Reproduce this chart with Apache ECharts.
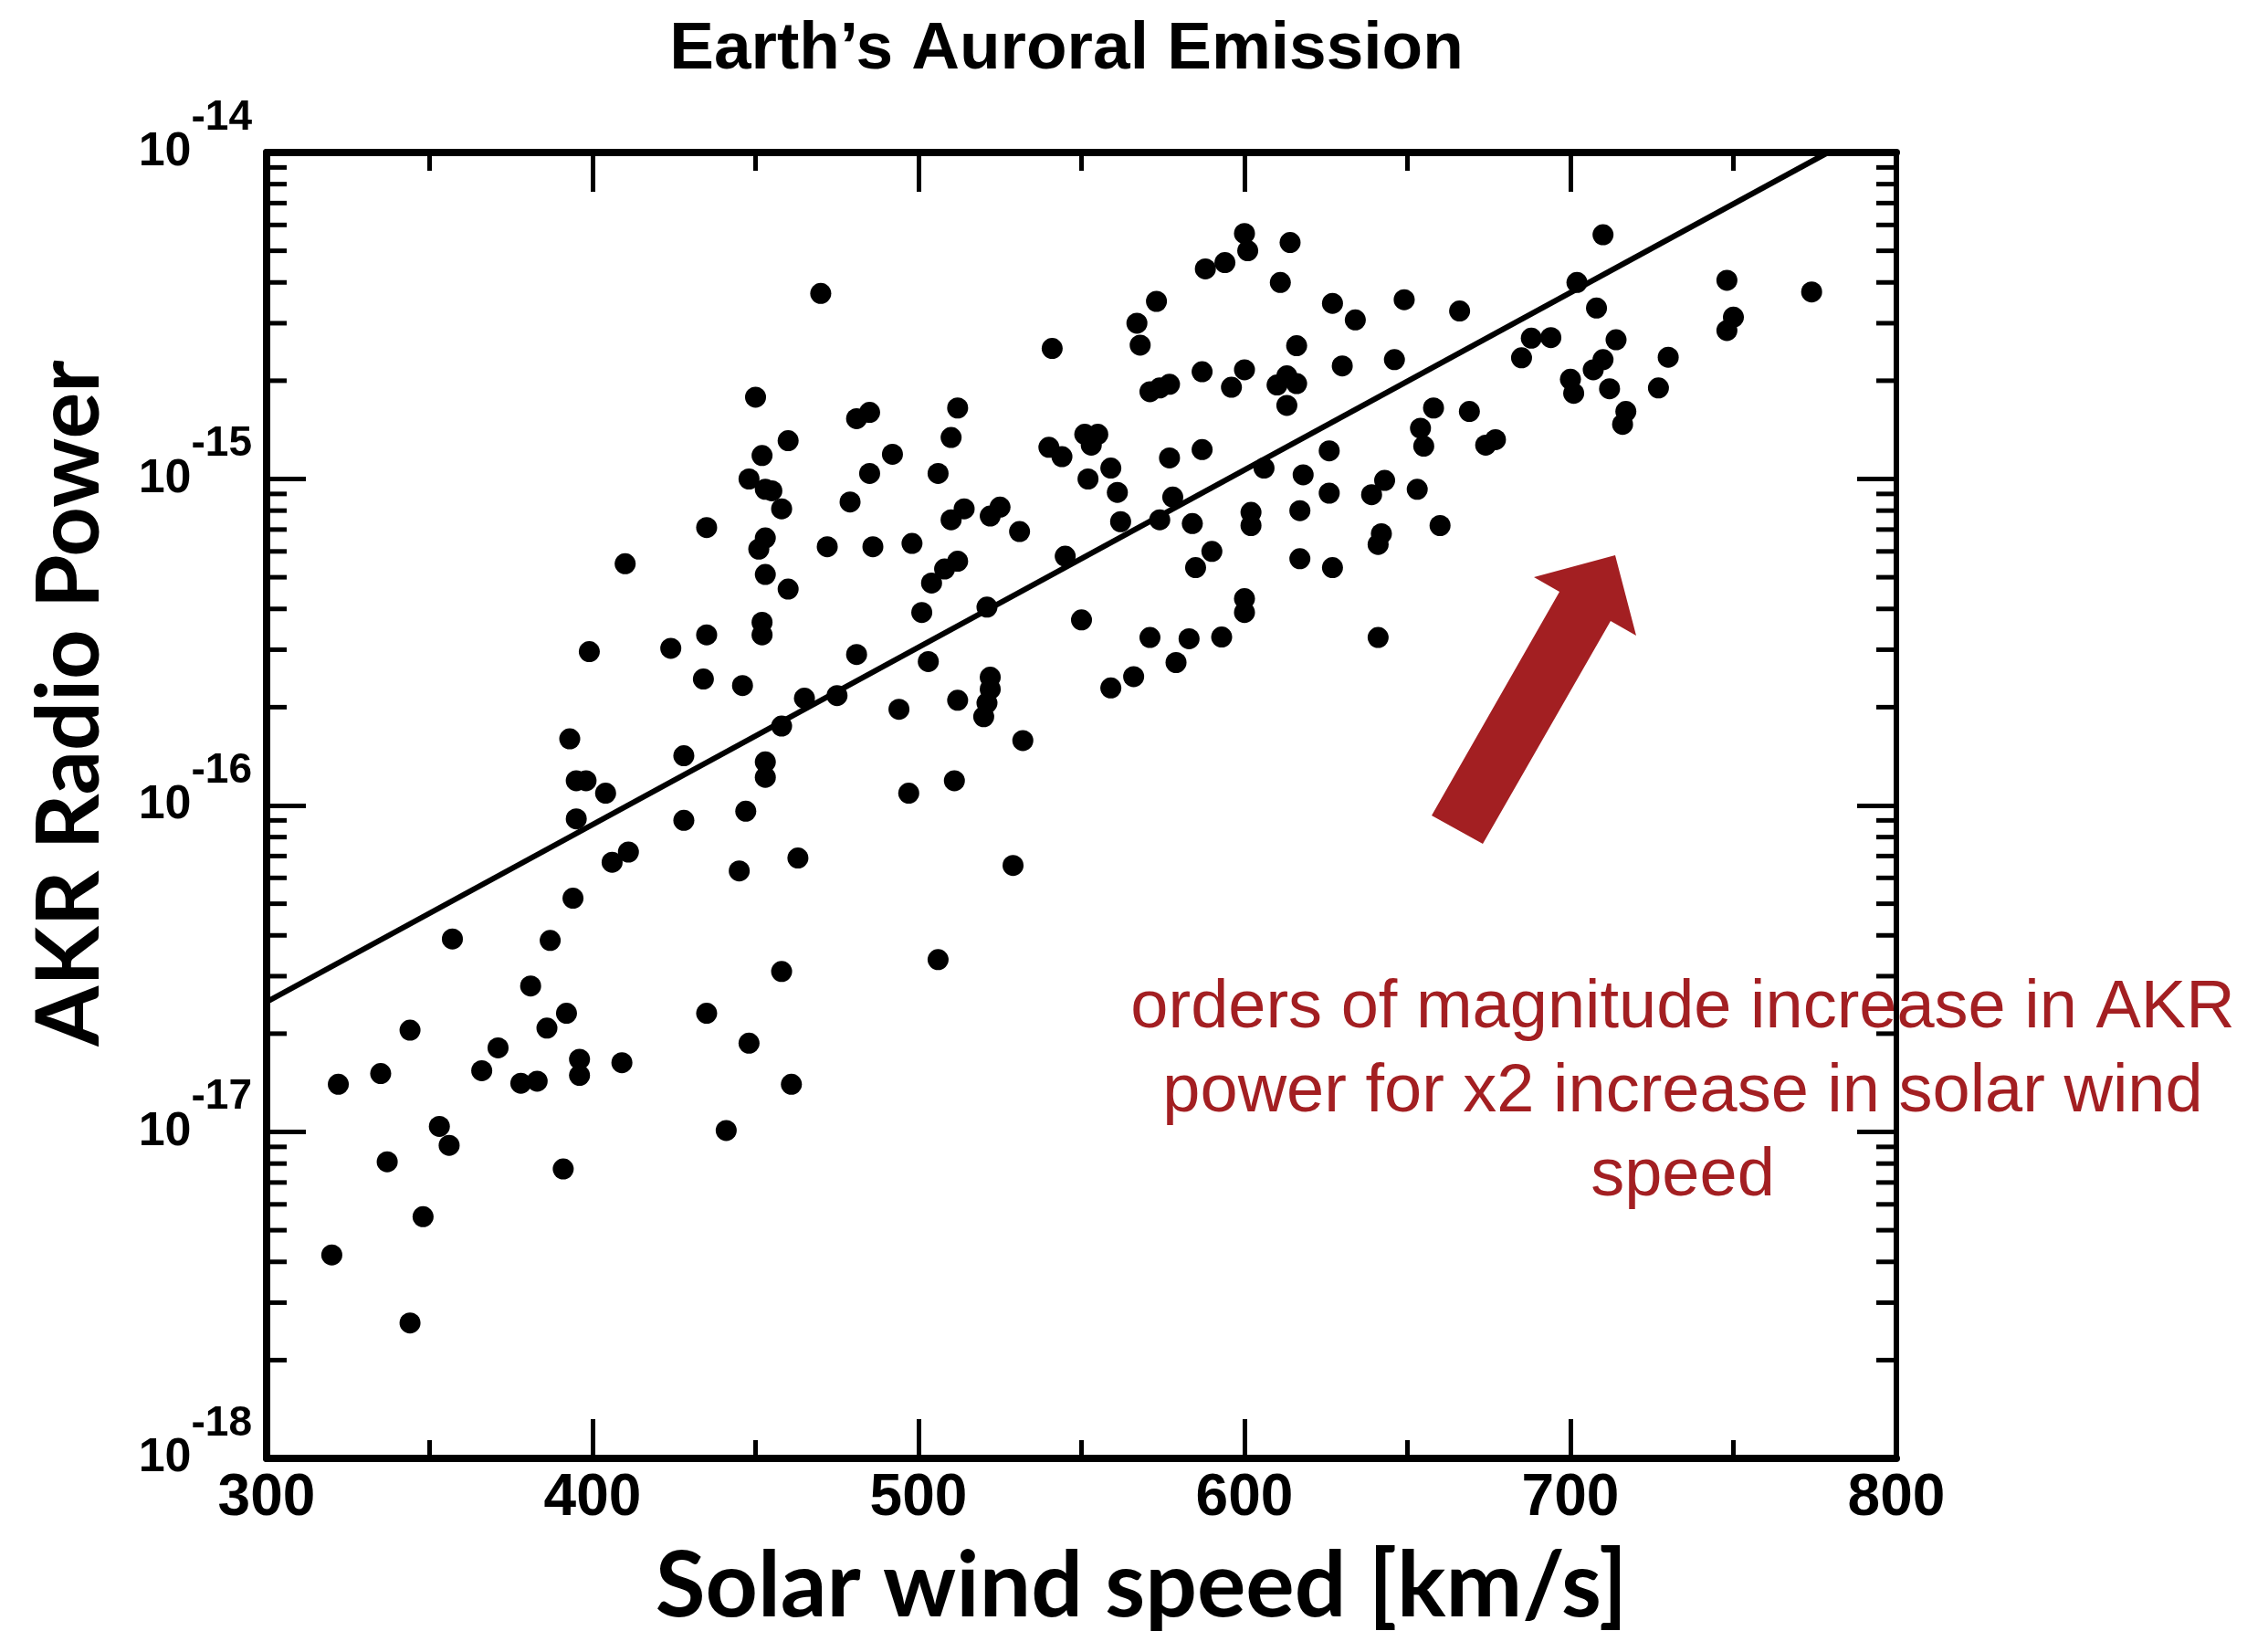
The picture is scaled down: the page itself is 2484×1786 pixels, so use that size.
<!DOCTYPE html>
<html><head><meta charset="utf-8">
<script src="https://cdn.jsdelivr.net/npm/echarts@6/dist/echarts.min.js"></script>
<style>html,body{margin:0;padding:0;background:#fff}#c{width:2484px;height:1786px}</style>
</head><body><div id="c"></div>
<script>
// Solar wind speed [km/s]
const speeds = [
 470,450,460,452,448,453,455,458,435,453,451,410,453,472,460,399,424,435,452,452,
 434,446,465,475,458,393,428,453,453,395,398,404,395,428,447,411,406,463,445,394,
 357,387,458,381,392,435,344,386,371,448,322,335,366,378,383,396,396,409,461,441,
 353,356,337,391,348,320,344,
 600,601,614,588,594,611,573,627,634,567,568,541,616,587,600,630,571,574,577,596,
 610,613,616,613,481,485,512,510,492,485,479,506,540,544,551,555,553,559,552,561,
 577,587,606,626,618,626,578,602,602,617,510,514,522,525,531,562,574,584,486,498,
 512,508,504,545,590,585,617,627,
 501,521,550,481,503,571,583,593,600,600,579,566,559,641,494,512,522,522,521,520,
 532,497,511,529,506,
 710,702,748,774,708,750,748,649,666,646,685,688,694,714,730,710,707,700,701,712,
 727,717,716,658,669,654,655,674,677,643,639,653,642,641,660
];
// AKR radio power
const powers = [
 3.7e-15,1.78e-15,1.31e-15,1.18e-15,1.0e-15,9.3e-16,9.2e-16,8.1e-16,7.1e-16,6.6e-16,6.1e-16,5.5e-16,5.1e-16,6.2e-16,4.6e-16,2.96e-16,3.03e-16,3.33e-16,3.64e-16,3.33e-16,
 2.44e-16,2.33e-16,2.13e-16,2.17e-16,1.75e-16,1.6e-16,1.42e-16,1.36e-16,1.22e-16,1.19e-16,1.19e-16,1.09e-16,9.1e-17,9.0e-17,9.6e-17,7.2e-17,6.7e-17,6.9e-17,6.3e-17,5.2e-17,
 3.9e-17,3.86e-17,3.1e-17,2.8e-17,2.31e-17,2.31e-17,2.05e-17,2.08e-17,1.81e-17,1.87e-17,1.4e-17,1.51e-17,1.54e-17,1.41e-17,1.43e-17,1.67e-17,1.49e-17,1.63e-17,1.4e-17,1.01e-17,
 1.04e-17,9.1e-18,8.1e-18,7.7e-18,5.5e-18,4.2e-18,2.6e-18,
 5.65e-15,5.0e-15,5.3e-15,4.4e-15,4.6e-15,4.0e-15,3.5e-15,3.45e-15,3.07e-15,3.0e-15,2.57e-15,2.51e-15,2.56e-15,2.13e-15,2.16e-15,2.22e-15,1.85e-15,1.9e-15,1.95e-15,1.91e-15,
 1.94e-15,2.07e-15,1.96e-15,1.68e-15,1.53e-15,1.6e-15,1.65e-15,1.34e-15,1.19e-15,1.04e-15,8.5e-16,1.04e-15,1.25e-15,1.17e-15,1.37e-15,1.37e-15,1.27e-15,1.08e-15,1.0e-15,9.1e-16,
 1.16e-15,1.23e-15,1.08e-15,1.22e-15,1.03e-15,9.05e-16,8.8e-16,7.9e-16,7.2e-16,8.0e-16,7.5e-16,8.1e-16,7.7e-16,8.2e-16,6.9e-16,7.4e-16,7.5e-16,7.3e-16,6.2e-16,6.35e-16,
 5.6e-16,5.3e-16,4.8e-16,5.8e-16,6.0e-16,5.35e-16,5.7e-16,5.35e-16,
 3.9e-16,4.05e-16,3.7e-16,2.9e-16,2.76e-16,3.27e-16,3.24e-16,3.28e-16,4.3e-16,3.9e-16,2.74e-16,2.48e-16,2.29e-16,3.27e-16,1.97e-16,2.1e-16,2.47e-16,2.27e-16,2.06e-16,1.87e-16,
 1.58e-16,1.09e-16,1.19e-16,6.55e-17,3.37e-17,
 5.6e-15,4.0e-15,4.06e-15,3.74e-15,3.34e-15,3.13e-15,2.85e-15,3.54e-15,3.27e-15,2.32e-15,2.35e-15,2.7e-15,2.71e-15,2.67e-15,2.36e-15,2.32e-15,2.16e-15,2.02e-15,1.83e-15,1.89e-15,
 1.9e-15,1.61e-15,1.47e-15,1.65e-15,1.61e-15,1.43e-15,1.26e-15,1.27e-15,1.32e-15,9.9e-16,8.95e-16,9.3e-16,6.8e-16,6.3e-16,7.2e-16
];
// fitted trend line end points
const fitSpeeds = [300, 779];
const fitPowers = [2.5e-17, 1e-14];
// axis ranges
const xMin = 300, xMax = 800, xStep = 100;
const yMin = 1e-18, yMax = 1e-14;
const decades = [-18, -17, -16, -15];
const minorMultipliers = [2, 3, 4, 5, 6, 7, 8, 9];

const RED = '#A31F22';
const minorTicks = [];
decades.forEach(e => minorMultipliers.forEach(m => minorTicks.push(m * Math.pow(10, e))));

const chart = echarts.init(document.getElementById('c'), null, {renderer: 'canvas'});
const axisBase = {
  type: 'value', min: xMin, max: xMax, interval: xStep,
  axisLine: {lineStyle: {color: '#000', width: 8}},
  axisTick: {inside: true, length: 43, lineStyle: {color: '#000', width: 5}},
  minorTick: {show: true, splitNumber: 2, length: 20, lineStyle: {color: '#000', width: 5}},
  splitLine: {show: false}
};
const yBase = {
  type: 'log', logBase: 10, min: yMin, max: yMax,
  axisLine: {lineStyle: {color: '#000', width: 8}},
  axisTick: {inside: true, length: 43, lineStyle: {color: '#000', width: 5}},
  splitLine: {show: false}
};
chart.setOption({
  animation: false,
  backgroundColor: '#fff',
  grid: {left: 292, top: 167, width: 1785, height: 1430},
  xAxis: [
    Object.assign({}, axisBase, {position: 'bottom',
      axisLabel: {color: '#000', fontSize: 64, fontWeight: 'bold', fontFamily: 'Liberation Sans', margin: 12}}),
    Object.assign({}, axisBase, {position: 'top', axisLabel: {show: false}})
  ],
  yAxis: [
    Object.assign({}, yBase, {position: 'left',
      axisLabel: {margin: 16,
        formatter: v => '{a|10}{b|' + Math.round(Math.log10(v)) + '}',
        rich: {
          a: {fontSize: 52, fontWeight: 'bold', fontFamily: 'Liberation Sans', color: '#000'},
          b: {fontSize: 46, fontWeight: 'bold', fontFamily: 'Liberation Sans', color: '#000', padding: [0, 0, 76, 0]}
        }}}),
    Object.assign({}, yBase, {position: 'right', axisLabel: {show: false}, axisLine: {lineStyle: {color: '#000', width: 6}}})
  ],
  series: [
    {
      type: 'scatter', xAxisIndex: 0, yAxisIndex: 0,
      symbol: 'circle', symbolSize: 23,
      itemStyle: {color: '#000', opacity: 1},
      data: speeds.map((s, i) => [s, powers[i]]),
      silent: true
    },
    {
      type: 'line', xAxisIndex: 0, yAxisIndex: 0,
      symbol: 'none', lineStyle: {color: '#000', width: 6},
      data: fitSpeeds.map((s, i) => [s, fitPowers[i]]),
      silent: true
    },
    {
      type: 'custom', xAxisIndex: 0, yAxisIndex: 0, silent: true, clip: false,
      data: minorTicks.map(v => [xMin, v]),
      renderItem: (params, api) => {
        const v = api.value(1);
        const l = api.coord([xMin, v]);
        const r = api.coord([xMax, v]);
        return {type: 'group', children: [
          {type: 'line', shape: {x1: l[0], y1: l[1], x2: l[0] + 22, y2: l[1]}, style: {stroke: '#000', lineWidth: 5}},
          {type: 'line', shape: {x1: r[0], y1: r[1], x2: r[0] - 22, y2: r[1]}, style: {stroke: '#000', lineWidth: 5}}
        ]};
      }
    }
  ],
  graphic: [
    {type: 'text', x: 1168, y: 55, style: {text: 'Earth\u2019s Auroral Emission', fill: '#000',
      font: 'bold 73px "Liberation Sans", Arial, sans-serif', align: 'center', verticalAlign: 'middle', textAlign: 'center', textVerticalAlign: 'middle'}},
    {type: 'text', x: 1250, y: 1738, style: {text: 'Solar wind speed [km/s]', fill: '#000',
      font: 'bold 100px Lato, sans-serif', align: 'center', verticalAlign: 'middle', textAlign: 'center', textVerticalAlign: 'middle'}},
    {type: 'text', x: 77, y: 770, rotation: Math.PI / 2, style: {text: 'AKR Radio Power', fill: '#000',
      font: 'bold 95px Lato, sans-serif', align: 'center', verticalAlign: 'middle', textAlign: 'center', textVerticalAlign: 'middle'}},
    {type: 'text', x: 1843, y: 1197, style: {text: 'orders of magnitude increase in AKR\npower for x2 increase in solar wind\nspeed', fill: RED,
      font: '74px "Liberation Sans", Arial, sans-serif', lineHeight: 92, align: 'center', verticalAlign: 'middle', textAlign: 'center', textVerticalAlign: 'middle'}},
    {type: 'polygon', shape: {points: [[1769, 608], [1792, 696], [1764, 680], [1624, 924], [1568, 893], [1708, 648], [1680, 632]]},
      style: {fill: RED}}
  ]
});
</script>
</body></html>
